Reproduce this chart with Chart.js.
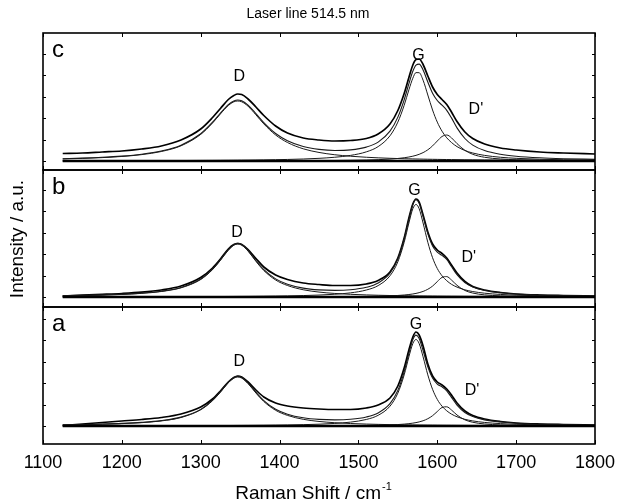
<!DOCTYPE html>
<html><head><meta charset="utf-8">
<script src="https://cdn.jsdelivr.net/npm/chart.js@4/dist/chart.umd.min.js"></script>
<style>html,body{margin:0;padding:0;background:#fff;}#wrap{width:617px;height:503px;}</style>
</head><body><div id="wrap"><canvas id="cv" width="617" height="503"></canvas></div>
<script>
// ---- data (intensity in arbitrary units above each panel's baseline) ----
const wavenumber = [1125,1150,1175,1200,1225,1250,1275,1300,1315,1325,1335,1342,1347,1352,1360,1370,1380,1395,1410,1430,1450,1470,1490,1510,1525,1540,1550,1558,1564,1569,1573,1577,1582,1588,1594,1600,1606,1612,1618,1625,1635,1645,1660,1680,1700,1730,1760,1800];

// panel a
const spectrumA = [0.5,2,3.5,5,6.5,8.5,12,19,27,35,44,48.5,50,49,44,36,29,23,20,18,17,16.5,16.5,18,21,28,40,58,76,89,94,91,80,62,50,44,41,37,31,23,15,10.5,7,4.5,3,2,1.5,1];
const fitA = [1.22,1.53,1.95,2.58,3.61,5.39,8.86,16.6,25.8,34.4,43.9,48.5,49.6,48.6,43.1,33.8,25.4,16.7,11.8,8.22,6.59,6.14,6.74,9.01,13.1,22.3,35.6,54.2,72.7,86.4,90.9,87.6,75.4,59.3,47.9,41.9,39.1,35.2,28.6,20.9,13.5,9.4,6.11,3.94,2.8,1.86,1.35,0.95];
const dBandA = [1.06,1.34,1.74,2.35,3.34,5.08,8.5,16.2,25.3,33.9,43.3,47.9,49,47.9,42.4,33.0,24.5,15.7,10.6,6.7,4.56,3.29,2.48,1.93,1.63,1.39,1.26,1.17,1.11,1.06,1.02,0.99,0.95,0.90,0.86,0.82,0.78,0.75,0.72,0.68,0.63,0.59,0.54,0.48,0.43,0.36,0.31,0.26];
const gBandA = [0.14,0.16,0.18,0.20,0.23,0.27,0.31,0.37,0.42,0.45,0.49,0.52,0.55,0.57,0.61,0.68,0.75,0.88,1.04,1.35,1.81,2.57,3.88,6.53,10.7,19.8,32.9,51.1,69.2,82.5,86.5,82.5,69.2,51.1,36.7,26.6,19.8,15.2,11.9,9.25,6.71,5.09,3.55,2.38,1.70,1.12,0.79,0.54];
const dPrimeA = [0.02,0.03,0.03,0.03,0.04,0.04,0.05,0.06,0.06,0.07,0.07,0.08,0.08,0.08,0.09,0.10,0.11,0.12,0.14,0.17,0.22,0.28,0.38,0.55,0.75,1.08,1.45,1.88,2.34,2.86,3.40,4.09,5.25,7.30,10.3,14.5,18.5,19.2,16.0,11.0,6.17,3.72,2.02,1.08,0.67,0.38,0.25,0.15];

// panel b
const spectrumB = [1,1.8,2.6,3.5,4.8,7,11,19.5,29,38,48,52.5,53.5,52.5,47.5,38.5,30,22,17.5,14,12.5,11.5,11.5,13,16.5,25,39,59,79,93,98,95,82,65,53,47,43.5,39,32,24,15.5,10.5,7,4.5,3,2,1.5,1];
const fitB = [1.32,1.65,2.1,2.78,3.9,5.83,9.58,18.0,27.9,37.3,47.4,52.4,53.7,52.5,46.7,36.5,27.4,18.1,12.8,8.87,7.1,6.61,7.23,9.66,14.0,23.8,38.1,58.0,77.7,92.5,97.2,93.7,80.6,63.4,51.1,44.8,41.6,37.5,30.5,22.3,14.4,10.0,6.52,4.21,3.0,1.99,1.46,1.02];
const dBandB = [1.15,1.45,1.88,2.54,3.61,5.5,9.2,17.5,27.4,36.7,46.8,51.8,53,51.8,45.9,35.7,26.5,17,11.5,7.25,4.93,3.56,2.68,2.09,1.76,1.5,1.36,1.27,1.2,1.15,1.1,1.07,1.03,0.97,0.93,0.89,0.84,0.81,0.78,0.74,0.68,0.64,0.58,0.52,0.47,0.39,0.34,0.28];
const gBandB = [0.15,0.17,0.19,0.21,0.25,0.29,0.33,0.40,0.45,0.48,0.52,0.56,0.59,0.61,0.65,0.73,0.80,0.94,1.11,1.44,1.94,2.75,4.15,6.99,11.4,21.2,35.2,54.7,74,88.3,92.5,88.3,74,54.7,39.3,28.5,21.2,16.3,12.7,9.9,7.18,5.45,3.8,2.55,1.82,1.2,0.85,0.58];
const dPrimeB = [0.02,0.03,0.03,0.03,0.04,0.04,0.05,0.06,0.06,0.07,0.07,0.08,0.08,0.08,0.10,0.11,0.12,0.13,0.15,0.18,0.23,0.30,0.40,0.58,0.80,1.14,1.54,1.99,2.48,3.03,3.60,4.34,5.57,7.74,10.9,15.4,19.6,20.4,17.0,11.7,6.54,3.94,2.14,1.14,0.71,0.40,0.27,0.16];

// panel c
const spectrumC = [7.5,8,9,10,12,15,21,32,43.5,52.5,61.5,65.5,67,66.5,62,54,45.5,35,28,23,21,20,20.5,22.5,27,37,50.5,67.5,83.5,96,101.5,102,96.5,85,74,66.5,61.5,56.5,49,39.5,29,22.5,17,13,11,9,8,7];
const fitC = [2.32,2.9,3.7,4.9,6.78,9.97,15.8,27.3,38.8,47.9,56.4,60.1,61.0,60.2,55.9,47.4,38.4,27.5,20.3,14.5,11.6,10.5,11.1,13.9,18.9,29.8,43.9,61.2,77.4,89.7,95.9,96.9,91.1,79.0,67.8,60.5,55.8,50.7,43.1,33.1,22.5,15.9,10.4,6.7,4.76,3.18,2.31,1.64];
const dBandC = [2.07,2.61,3.38,4.53,6.36,9.48,15.2,26.6,38.0,47.1,55.5,59.2,60,59.2,54.8,46.2,37.1,26.0,18.5,12.2,8.56,6.26,4.77,3.74,3.16,2.71,2.46,2.29,2.17,2.07,2.0,1.94,1.86,1.77,1.69,1.61,1.54,1.47,1.41,1.34,1.25,1.17,1.06,0.94,0.84,0.71,0.61,0.51];
const gBandC = [0.21,0.24,0.27,0.31,0.35,0.41,0.48,0.57,0.63,0.68,0.74,0.79,0.82,0.86,0.92,1.01,1.12,1.31,1.55,2.0,2.67,3.74,5.6,9.15,14.4,25.2,38.9,55.7,71.2,82.8,88.4,88.3,80.8,66.0,51.0,38.9,29.8,23.2,18.5,14.4,10.5,8.0,5.6,3.74,2.67,1.76,1.24,0.84];
const dPrimeC = [0.04,0.05,0.05,0.06,0.07,0.08,0.09,0.11,0.12,0.13,0.14,0.14,0.15,0.15,0.16,0.18,0.19,0.22,0.25,0.31,0.40,0.51,0.69,0.98,1.33,1.91,2.52,3.24,3.99,4.81,5.64,6.68,8.39,11.2,15.1,20.0,24.5,26,23.2,17.4,10.7,6.68,3.71,2.02,1.25,0.71,0.46,0.29];

// flat baselines
const baselineX = [1125, 1800];
const baselineY = [0, 0];

// axis ticks
const xTickValues = [1100,1200,1300,1400,1500,1600,1700,1800];
const yTickValues = [0, 21.4, 42.8, 64.2, 85.6, 107];

// text
const titleText = 'Laser line 514.5 nm';
const xTitle = 'Raman Shift / cm';
const xTitleSup = '-1';
const yTitle = 'Intensity / a.u.';
const peakNames = ['D', 'G', "D'"];
const peakLabelWavenumber = { a: [1349, 1573, 1644], b: [1346, 1571, 1640], c: [1349, 1576, 1649] };
const peakLabelIntensity  = { a: [59.7, 97.2, 31.2], b: [60.2, 102, 35.1], c: [80.4, 101.2, 47] };

// ---- chart ----
const FONT = "'Liberation Sans', Arial, Helvetica, sans-serif";
const pts = (xs, ys) => xs.map((x, i) => ({ x, y: ys[i] }));
const panels = [
  { key: 'a', axis: 'ya', spec: spectrumA, fit: fitA, d: dBandA, g: gBandA, dp: dPrimeA, min: -18, max: 119 },
  { key: 'b', axis: 'yb', spec: spectrumB, fit: fitB, d: dBandB, g: gBandB, dp: dPrimeB, min: -10, max: 127 },
  { key: 'c', axis: 'yc', spec: spectrumC, fit: fitC, d: dBandC, g: gBandC, dp: dPrimeC, min: -9, max: 128 }
];

const datasets = [];
panels.forEach(p => {
  const base = { yAxisID: p.axis, pointRadius: 0, fill: false, cubicInterpolationMode: 'monotone' };
  datasets.push({ ...base, label: 'baseline ' + p.key, data: pts(baselineX, baselineY), borderColor: '#000', borderWidth: 2.4 });
  datasets.push({ ...base, label: 'D ' + p.key, data: pts(wavenumber, p.d), borderColor: '#1a1a1a', borderWidth: 1 });
  datasets.push({ ...base, label: 'G ' + p.key, data: pts(wavenumber, p.g), borderColor: '#1a1a1a', borderWidth: 1 });
  datasets.push({ ...base, label: "D' " + p.key, data: pts(wavenumber, p.dp), borderColor: '#1a1a1a', borderWidth: 1 });
  datasets.push({ ...base, label: 'fit ' + p.key, data: pts(wavenumber, p.fit), borderColor: '#1a1a1a', borderWidth: 1.1 });
  datasets.push({ ...base, label: 'spectrum ' + p.key, data: pts(wavenumber, p.spec), borderColor: '#000', borderWidth: 1.7 });
});

const yScale = p => ({
  type: 'linear', position: 'left', stack: 'panels', stackWeight: 1,
  min: p.min, max: p.max,
  grid: { display: false, drawTicks: false }, border: { display: false },
  ticks: { display: false },
  afterBuildTicks: s => { s.ticks = yTickValues.map(v => ({ value: v })); },
  afterFit: s => { s.width = 43; s.paddingTop = 0; s.paddingBottom = 0; }
});

const decor = {
  id: 'decor',
  afterDraw(chart) {
    const ctx = chart.ctx, ca = chart.chartArea, xs = chart.scales.x;
    ctx.save();
    ctx.strokeStyle = '#000';
    panels.forEach(p => {
      const s = chart.scales[p.axis];
      ctx.lineWidth = 1.6;
      ctx.strokeRect(ca.left, s.top, ca.right - ca.left, s.bottom - s.top);
      ctx.lineWidth = 1;
      ctx.beginPath();
      xTickValues.forEach(v => {
        const px = Math.round(xs.getPixelForValue(v)) + 0.5;
        ctx.moveTo(px, s.bottom); ctx.lineTo(px, s.bottom - 4);
        ctx.moveTo(px, s.top); ctx.lineTo(px, s.top + 4);
      });
      yTickValues.forEach(v => {
        const py = Math.round(s.getPixelForValue(v)) + 0.5;
        ctx.moveTo(ca.left, py); ctx.lineTo(ca.left + 3, py);
        ctx.moveTo(ca.right, py); ctx.lineTo(ca.right - 3, py);
      });
      ctx.stroke();
      ctx.fillStyle = '#000';
      ctx.font = '24px ' + FONT;
      ctx.textAlign = 'left'; ctx.textBaseline = 'alphabetic';
      ctx.fillText(p.key, ca.left + 9, s.top + 24);
      ctx.font = '16px ' + FONT;
      ctx.textAlign = 'center';
      peakNames.forEach((n, i) => {
        ctx.fillText(n, xs.getPixelForValue(peakLabelWavenumber[p.key][i]), s.getPixelForValue(peakLabelIntensity[p.key][i]));
      });
    });
    ctx.font = '14px ' + FONT;
    ctx.textAlign = 'center'; ctx.textBaseline = 'middle';
    ctx.fillText(titleText, 308, 14);
    ctx.font = '19px ' + FONT;
    const w1 = ctx.measureText(xTitle).width;
    ctx.font = '11px ' + FONT;
    const w2 = ctx.measureText(xTitleSup).width;
    const x0 = 313 - (w1 + w2) / 2;
    ctx.textAlign = 'left'; ctx.textBaseline = 'alphabetic';
    ctx.font = '19px ' + FONT;
    ctx.fillText(xTitle, x0, 499);
    ctx.font = '11px ' + FONT;
    ctx.fillText(xTitleSup, x0 + w1 + 1, 490);
    ctx.translate(18, 239);
    ctx.rotate(-Math.PI / 2);
    ctx.font = '19px ' + FONT;
    ctx.textAlign = 'center'; ctx.textBaseline = 'middle';
    ctx.fillText(yTitle, 0, 0);
    ctx.restore();
  }
};

new Chart(document.getElementById('cv'), {
  type: 'line',
  data: { datasets },
  options: {
    responsive: false, animation: false, devicePixelRatio: 1,
    layout: { padding: { top: 33, right: 22, left: 0, bottom: 0 } },
    plugins: { legend: { display: false }, title: { display: false }, tooltip: { enabled: false } },
    scales: {
      x: {
        type: 'linear', min: 1100, max: 1800,
        grid: { display: false, drawTicks: false }, border: { display: false },
        afterBuildTicks: s => { s.ticks = xTickValues.map(v => ({ value: v })); },
        ticks: { color: '#000', font: { size: 18, family: FONT }, padding: 8, maxRotation: 0, autoSkip: false,
                 callback: v => String(v) },
        afterFit: s => { s.height = 59; s.paddingLeft = 0; s.paddingRight = 0; }
      },
      ya: yScale(panels[0]),
      yb: yScale(panels[1]),
      yc: yScale(panels[2])
    }
  },
  plugins: [decor]
});
</script></body></html>
